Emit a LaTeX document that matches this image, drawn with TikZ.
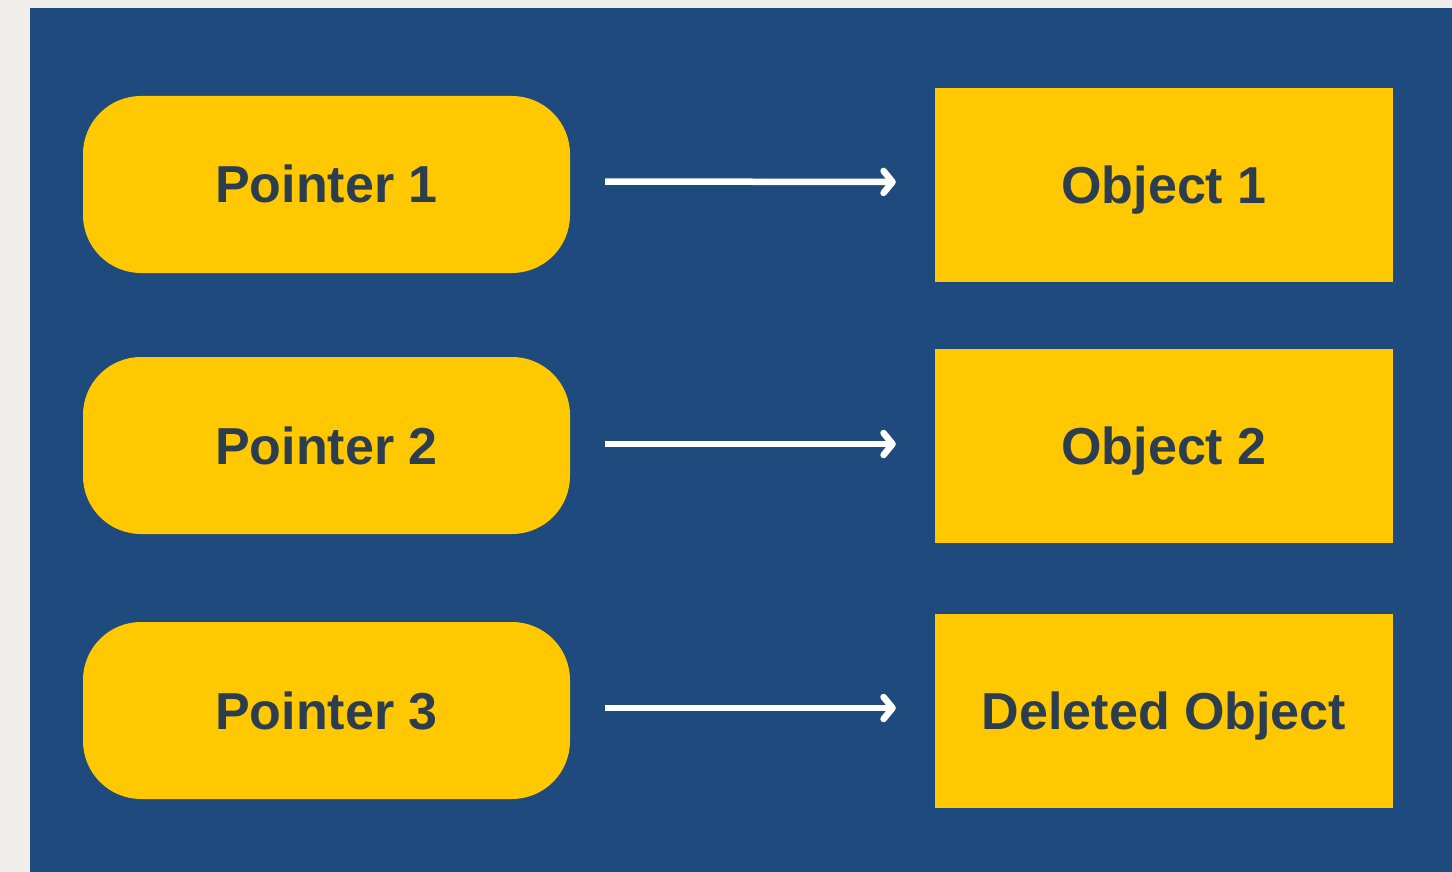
\documentclass[tikz,border=0pt]{standalone}
\usepackage{fontspec}
\setmainfont{Liberation Sans}
\usetikzlibrary{arrows.meta}
\definecolor{pagegray}{HTML}{EFEEEB}
\definecolor{navy}{HTML}{1F4A7E}
\definecolor{amber}{HTML}{FFC800}
\definecolor{slate}{HTML}{2C3D4F}
\tikzset{
  label font/.style={font=\fontsize{52}{60}\selectfont\bfseries, text=slate,
    text height=37pt, text depth=0pt},
  pointer/.style={label font, fill=amber, draw=none, rounded corners=58pt,
    minimum width=487pt, minimum height=177pt, inner sep=0pt},
  objectbox/.style={label font, fill=amber, draw=none,
    minimum width=458pt, minimum height=194pt, inner sep=0pt},
  link/.style={draw=white, line width=6.5pt,
    -{Straight Barb[length=9pt, width=22pt, line join=round, line cap=round]},
    shorten <=35pt, shorten >=39pt}
}
\begin{document}
\begin{tikzpicture}[x=1pt, y=-1pt]
  % page and panel
  \fill[pagegray] (0,0) rectangle (1452,872);
  \fill[navy] (30,8) rectangle (1452,872);
  \useasboundingbox (0,0) rectangle (1452,872);

  % pointers
  \node[pointer] (p1) at (326.5,184.5) {Pointer 1};
  \node[pointer] (p2) at (326.5,445.5) {Pointer 2};
  \node[pointer] (p3) at (326.5,710.5) {Pointer 3};

  % objects
  \node[objectbox] (o1) at (1164,185) {Object 1};
  \node[objectbox] (o2) at (1164,445.5) {Object 2};
  \node[objectbox] (o3) at (1164,710.5) {Deleted Object};

  % references, drawn a little above the centre line
  \draw[link] ([yshift=3pt]p1.east) -- ([yshift=3pt]o1.west);
  \draw[link] ([yshift=1.5pt]p2.east) -- ([yshift=1.5pt]o2.west);
  \draw[link] ([yshift=2.5pt]p3.east) -- ([yshift=2.5pt]o3.west);
\end{tikzpicture}
\end{document}
